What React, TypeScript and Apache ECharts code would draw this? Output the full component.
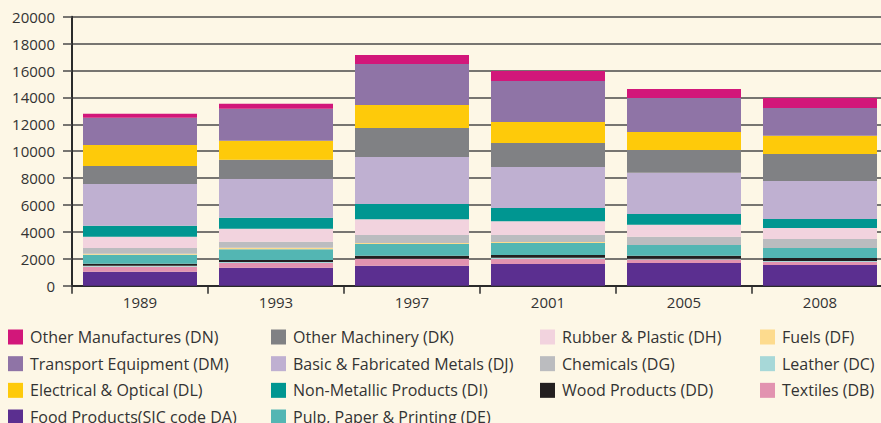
import React, { useEffect, useRef } from "react";
import * as echarts from "echarts";

const years = ["1989", "1993", "1997", "2001", "2005", "2008"];
const yTicks = [0, 20000, 2000];

const foodDA = [1040, 1340, 1480, 1610, 1690, 1540];
const textilesDB = [370, 350, 500, 370, 250, 230];
const leatherDC = [70, 75, 30, 100, 70, 70];
const woodDD = [150, 150, 220, 200, 220, 220];
const pulpDE = [670, 800, 870, 890, 800, 740];
const fuelsDF = [75, 100, 75, 75, 0, 0];
const chemicalsDG = [420, 450, 600, 520, 610, 670];
const rubberDH = [840, 970, 1170, 1030, 900, 820];
const nonMetallicDI = [820, 820, 1130, 980, 800, 670];
const metalsDJ = [3100, 2900, 3500, 3050, 3050, 2830];
const machineryDK = [1340, 1410, 2150, 1780, 1700, 2010];
const electricalDL = [1560, 1410, 1710, 1560, 1340, 1340];
const transportDM = [2030, 2380, 3050, 3050, 2530, 2080];
const otherDN = [300, 370, 670, 740, 670, 740];

const N_DA = "Food Products(SIC code DA)";
const N_DB = "Textiles (DB)";
const N_DC = "Leather (DC)";
const N_DD = "Wood Products (DD)";
const N_DE = "Pulp, Paper & Printing (DE)";
const N_DF = "Fuels (DF)";
const N_DG = "Chemicals (DG)";
const N_DH = "Rubber & Plastic (DH)";
const N_DI = "Non-Metallic Products (DI)";
const N_DJ = "Basic & Fabricated Metals (DJ)";
const N_DK = "Other Machinery (DK)";
const N_DL = "Electrical & Optical (DL)";
const N_DM = "Transport Equipment (DM)";
const N_DN = "Other Manufactures (DN)";

const FONT = "'Open Sans', 'Noto Sans', sans-serif";
const TEXT = "#333333";

export default function App() {
  const ref = useRef<HTMLDivElement>(null);
  useEffect(() => {
    if (!ref.current) return;
    const chart = echarts.init(ref.current, null, { renderer: "svg" });
    const seriesDefs: [string, number[], string][] = [
      [N_DA, foodDA, "#5b2f90"],
      [N_DB, textilesDB, "#e293b0"],
      [N_DC, leatherDC, "#a7d8d8"],
      [N_DD, woodDD, "#231f20"],
      [N_DE, pulpDE, "#53b6b3"],
      [N_DF, fuelsDF, "#fddb8e"],
      [N_DG, chemicalsDG, "#bbbcbf"],
      [N_DH, rubberDH, "#f2d3de"],
      [N_DI, nonMetallicDI, "#009691"],
      [N_DJ, metalsDJ, "#bfb0d1"],
      [N_DK, machineryDK, "#808184"],
      [N_DL, electricalDL, "#feca0a"],
      [N_DM, transportDM, "#8f74a6"],
      [N_DN, otherDN, "#d2177a"],
    ];
    const legendCols: [number, string[]][] = [
      [8, [N_DN, N_DM, N_DL, N_DA]],
      [271, [N_DK, N_DJ, N_DI, N_DE]],
      [540, [N_DH, N_DG, N_DD]],
      [760, [N_DF, N_DC, N_DB]],
    ];
    chart.setOption({
      animation: false,
      backgroundColor: "#fdf7e6",
      textStyle: { fontFamily: FONT, color: TEXT },
      grid: {
        left: 72,
        top: 16.7,
        width: 816,
        height: 269,
        containLabel: false,
        outerBoundsMode: "none",
      },
      legend: legendCols.map(([left, data]) => ({
        orient: "vertical",
        left,
        top: 329,
        width: 260,
        height: 140,
        padding: 0,
        itemWidth: 15,
        itemHeight: 15,
        itemGap: 10.67,
        icon: "rect",
        selectedMode: false,
        data,
        textStyle: {
          fontFamily: FONT,
          fontSize: 16,
          color: TEXT,
          lineHeight: 15,
          padding: [0, 0, 0, 2],
        },
      })),
      xAxis: {
        type: "category",
        data: years,
        axisLine: { lineStyle: { color: "#2b2b2b", width: 2 } },
        axisTick: { show: true, length: 8, lineStyle: { color: "#2b2b2b", width: 1.5 } },
        axisLabel: { fontSize: 15, color: TEXT, margin: 9, fontFamily: FONT },
      },
      yAxis: {
        type: "value",
        min: yTicks[0],
        max: yTicks[1],
        interval: yTicks[2],
        axisLine: { show: true, lineStyle: { color: "#2b2b2b", width: 2 } },
        axisTick: { show: true, length: 9, lineStyle: { color: "#4a4a4a", width: 1.5 } },
        axisLabel: {
          fontSize: 15,
          color: TEXT,
          margin: 17,
          fontFamily: FONT,
          formatter: (v: number) => String(v),
        },
        splitLine: { show: true, lineStyle: { color: "#4a4a4a", width: 1.5 } },
      },
      series: seriesDefs.map(([name, data, color]) => ({
        name,
        type: "bar",
        stack: "total",
        data,
        barWidth: 114,
        itemStyle: { color },
        emphasis: { disabled: true },
      })),
    });
    return () => chart.dispose();
  }, []);
  return (
    <div
      ref={ref}
      style={{ position: "fixed", left: 0, top: 0, width: 881, height: 423 }}
    />
  );
}
